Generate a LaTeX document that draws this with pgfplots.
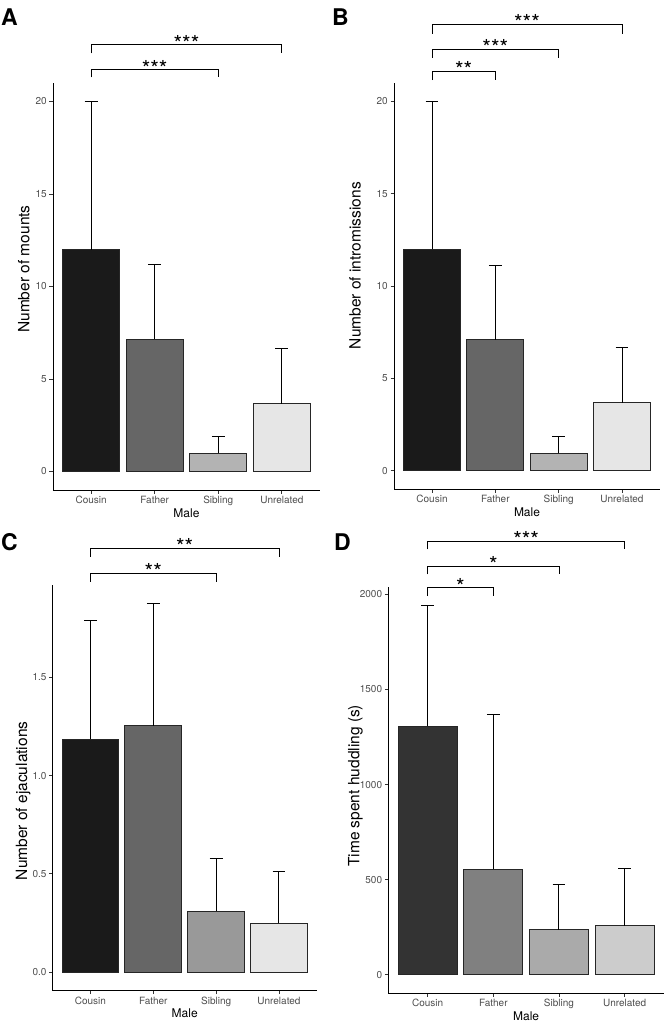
\documentclass[border=0pt]{standalone}
\usepackage{fontspec}
\setmainfont{TeX Gyre Heros}
\usepackage{pgfplots}
\pgfplotsset{compat=1.18}
\definecolor{g10}{HTML}{1A1A1A}
\definecolor{g20}{HTML}{333333}
\definecolor{g40}{HTML}{666666}
\definecolor{g50}{HTML}{808080}
\definecolor{g60}{HTML}{999999}
\definecolor{g67}{HTML}{AAAAAA}
\definecolor{g70}{HTML}{B3B3B3}
\definecolor{g80}{HTML}{CCCCCC}
\definecolor{g90}{HTML}{E6E6E6}
\definecolor{tickgrey}{HTML}{4D4D4D}
\tikzset{stars/.style={anchor=base, yshift=-6.5pt, inner sep=0pt, font=\fontsize{22}{22}\selectfont}}
\pgfplotsset{
  panel/.style={
    scale only axis, anchor=south west,
    axis x line*=bottom, axis y line*=left,
    axis line style={-, line width=0.9pt, black},
    xmin=0.4, xmax=4.6,
    xtick={1,2,3,4}, xticklabels={Cousin,Father,Sibling,Unrelated},
    tick align=outside, major tick length=3.5pt,
    tick style={line width=0.8pt, color=black!80},
    ticklabel style={font=\fontsize{10}{12}\selectfont, text=tickgrey, inner sep=2.5pt},
    /pgf/number format/assume math mode=true,
    /pgf/number format/1000 sep={},
    scaled y ticks=false,
    clip=false,
    xlabel={Male},
    xlabel style={at={(axis description cs:0.5,0)}, anchor=base, yshift=-27pt, font=\fontsize{12}{14}\selectfont, inner sep=0pt},
    ylabel style={anchor=base, font=\fontsize{15.5}{17}\selectfont, inner sep=0pt},
  },
  gbar/.style={ybar, bar width=0.9, bar shift=0pt, draw=black!85, line width=1pt,
    error bars/.cd, y dir=plus, y explicit, error mark=|,
    error bar style={line width=1pt, black},
    error mark options={line width=1pt, mark size=6.4pt, black}},
  brk/.style={black, line width=0.9pt, mark=none, forget plot},
}
\begin{document}
\begin{tikzpicture}
\useasboundingbox (0,0) rectangle (665pt,-1021pt);
% Panel letters
\node[anchor=base west, inner sep=0pt, font=\bfseries\fontsize{23}{23}\selectfont] at (1pt,-25pt) {A};
\node[anchor=base west, inner sep=0pt, font=\bfseries\fontsize{23}{23}\selectfont] at (332pt,-25pt) {B};
\node[anchor=base west, inner sep=0pt, font=\bfseries\fontsize{23}{23}\selectfont] at (1pt,-550pt) {C};
\node[anchor=base west, inner sep=0pt, font=\bfseries\fontsize{23}{23}\selectfont] at (334pt,-550.5pt) {D};

% ---------- A ----------
\begin{axis}[panel, at={(53pt,-490pt)}, width=267pt, height=407pt,
  ymin=-1, ymax=21, ytick={0,5,10,15,20},
  ylabel={Number of mounts},
  ylabel style={at={([xshift=-23.7pt]axis description cs:0,0.543)}}]
\addplot[fill=g10, gbar] coordinates {(1,12.0) +- (0,8.0)};
\addplot[fill=g40, gbar] coordinates {(2,7.16) +- (0,4.01)};
\addplot[fill=g70, gbar] coordinates {(3,0.99) +- (0,0.9)};
\addplot[fill=g90, gbar] coordinates {(4,3.66) +- (0,3.01)};
\addplot[brk] coordinates {(1,22.6) (1,23.07) (4,23.07) (4,22.6)};
\addplot[brk] coordinates {(1,21.3) (1,21.72) (3,21.72) (3,21.3)};
\node[stars] at (axis cs:2.5,23.07) {***};
\node[stars] at (axis cs:2,21.72) {***};
\end{axis}

% ---------- B ----------
\begin{axis}[panel, at={(394pt,-489.3pt)}, width=266pt, height=406.6pt,
  ymin=-1, ymax=21, ytick={0,5,10,15,20},
  ylabel={Number of intromissions},
  ylabel style={at={([xshift=-33.3pt]axis description cs:0,0.550)}}]
\addplot[fill=g10, gbar] coordinates {(1,12.0) +- (0,8.0)};
\addplot[fill=g40, gbar] coordinates {(2,7.08) +- (0,4.02)};
\addplot[fill=g70, gbar] coordinates {(3,0.95) +- (0,0.91)};
\addplot[fill=g90, gbar] coordinates {(4,3.69) +- (0,2.99)};
\addplot[brk] coordinates {(1,23.66) (1,24.16) (4,24.16) (4,23.66)};
\addplot[brk] coordinates {(1,22.34) (1,22.8) (3,22.8) (3,22.34)};
\addplot[brk] coordinates {(1,21.14) (1,21.62) (2,21.62) (2,21.14)};
\node[stars] at (axis cs:2.5,24.16) {***};
\node[stars] at (axis cs:2,22.8) {***};
\node[stars] at (axis cs:1.5,21.62) {**};
\end{axis}

% ---------- C ----------
\begin{axis}[panel, at={(52.7pt,-990.7pt)}, width=264pt, height=405.7pt,
  ymin=-0.094, ymax=1.969, ytick={0,0.5,1,1.5},
  yticklabel style={/pgf/number format/fixed, /pgf/number format/fixed zerofill, /pgf/number format/precision=1},
  ylabel={Number of ejaculations},
  ylabel style={at={([xshift=-25.7pt]axis description cs:0,0.468)}}]
\addplot[fill=g10, gbar] coordinates {(1,1.185) +- (0,0.603)};
\addplot[fill=g40, gbar] coordinates {(2,1.253) +- (0,0.624)};
\addplot[fill=g60, gbar] coordinates {(3,0.311) +- (0,0.268)};
\addplot[fill=g90, gbar] coordinates {(4,0.25) +- (0,0.26)};
\addplot[brk] coordinates {(1,2.113) (1,2.155) (4,2.155) (4,2.113)};
\addplot[brk] coordinates {(1,1.986) (1,2.028) (3,2.028) (3,1.986)};
\node[stars] at (axis cs:2.5,2.155) {**};
\node[stars] at (axis cs:2,2.028) {**};
\end{axis}

% ---------- D ----------
\begin{axis}[panel, at={(388.3pt,-993.3pt)}, width=275.7pt, height=406pt,
  ymin=-97, ymax=2037, ytick={0,500,1000,1500,2000},
  ylabel={Time spent huddling (s)},
  ylabel style={at={([xshift=-29pt]axis description cs:0,0.511)}}]
\addplot[fill=g20, gbar] coordinates {(1,1306) +- (0,633)};
\addplot[fill=g50, gbar] coordinates {(2,554) +- (0,815)};
\addplot[fill=g67, gbar] coordinates {(3,236) +- (0,239)};
\addplot[fill=g80, gbar] coordinates {(4,257) +- (0,300)};
\addplot[brk] coordinates {(1,2236) (1,2279) (4,2279) (4,2236)};
\addplot[brk] coordinates {(1,2105) (1,2147) (3,2147) (3,2105)};
\addplot[brk] coordinates {(1,1991) (1,2035) (2,2035) (2,1991)};
\node[stars] at (axis cs:2.5,2279) {***};
\node[stars] at (axis cs:2,2147) {*};
\node[stars] at (axis cs:1.5,2035) {*};
\end{axis}
\end{tikzpicture}
\end{document}
